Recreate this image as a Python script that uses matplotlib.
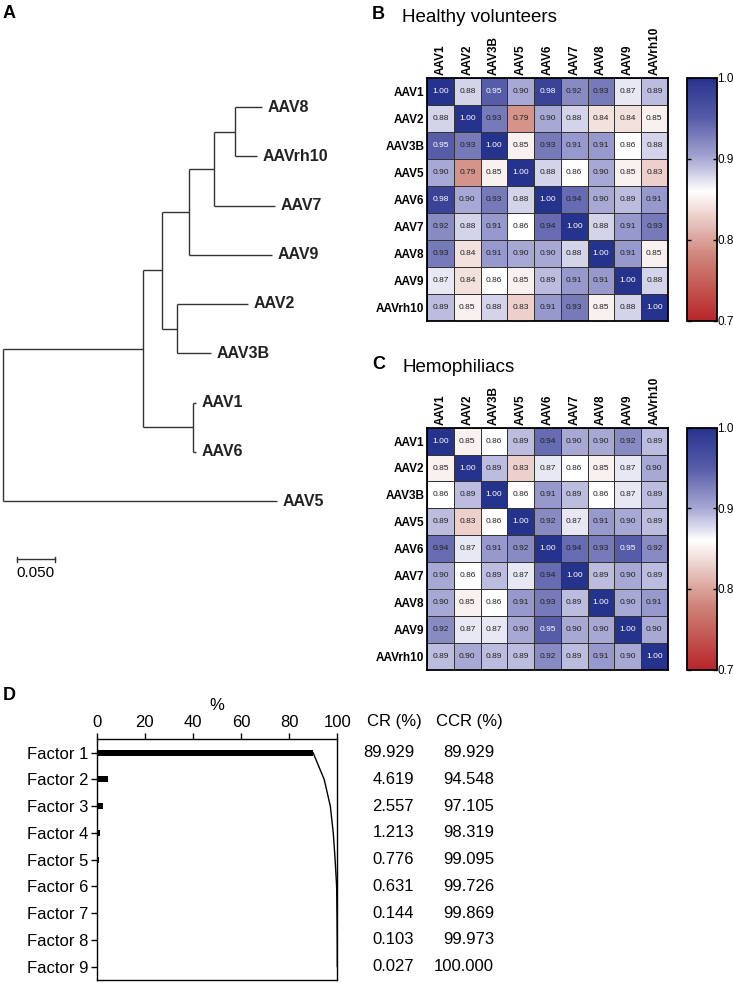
import matplotlib
matplotlib.use("Agg")
import matplotlib.pyplot as plt
import matplotlib.transforms as mtransforms
from matplotlib.colors import LinearSegmentedColormap, Normalize
from matplotlib.cm import ScalarMappable
import numpy as np

plt.rcParams['font.family'] = ['Liberation Sans', 'DejaVu Sans']

# ---- data ----
# phylogenetic tree (A): parent of each node and its branch length
tip_order = ['AAV8', 'AAVrh10', 'AAV7', 'AAV9', 'AAV2', 'AAV3B', 'AAV1', 'AAV6', 'AAV5']
tree_parent = {
    'ingroup': 'root', 'AAV5': 'root',
    'n16': 'ingroup', 'clade': 'ingroup',
    'AAV1': 'n16', 'AAV6': 'n16',
    'n23': 'clade', 'n789': 'clade',
    'AAV2': 'n23', 'AAV3B': 'n23',
    'n78': 'n789', 'AAV9': 'n789',
    'n810': 'n78', 'AAV7': 'n78',
    'AAV8': 'n810', 'AAVrh10': 'n810',
}
branch_length = {
    'ingroup': 0.186, 'AAV5': 0.364,
    'n16': 0.066, 'clade': 0.025,
    'AAV1': 0.005, 'AAV6': 0.005,
    'n23': 0.021, 'n789': 0.037,
    'AAV2': 0.094, 'AAV3B': 0.045,
    'n78': 0.032, 'AAV9': 0.109,
    'n810': 0.028, 'AAV7': 0.082,
    'AAV8': 0.036, 'AAVrh10': 0.029,
}
scale_bar = 0.050

# correlation matrices (B, C)
serotypes = ['AAV1', 'AAV2', 'AAV3B', 'AAV5', 'AAV6', 'AAV7', 'AAV8', 'AAV9', 'AAVrh10']
healthy = [
    [1.00, 0.88, 0.95, 0.90, 0.98, 0.92, 0.93, 0.87, 0.89],
    [0.88, 1.00, 0.93, 0.79, 0.90, 0.88, 0.84, 0.84, 0.85],
    [0.95, 0.93, 1.00, 0.85, 0.93, 0.91, 0.91, 0.86, 0.88],
    [0.90, 0.79, 0.85, 1.00, 0.88, 0.86, 0.90, 0.85, 0.83],
    [0.98, 0.90, 0.93, 0.88, 1.00, 0.94, 0.90, 0.89, 0.91],
    [0.92, 0.88, 0.91, 0.86, 0.94, 1.00, 0.88, 0.91, 0.93],
    [0.93, 0.84, 0.91, 0.90, 0.90, 0.88, 1.00, 0.91, 0.85],
    [0.87, 0.84, 0.86, 0.85, 0.89, 0.91, 0.91, 1.00, 0.88],
    [0.89, 0.85, 0.88, 0.83, 0.91, 0.93, 0.85, 0.88, 1.00],
]
hemophiliacs = [
    [1.00, 0.85, 0.86, 0.89, 0.94, 0.90, 0.90, 0.92, 0.89],
    [0.85, 1.00, 0.89, 0.83, 0.87, 0.86, 0.85, 0.87, 0.90],
    [0.86, 0.89, 1.00, 0.86, 0.91, 0.89, 0.86, 0.87, 0.89],
    [0.89, 0.83, 0.86, 1.00, 0.92, 0.87, 0.91, 0.90, 0.89],
    [0.94, 0.87, 0.91, 0.92, 1.00, 0.94, 0.93, 0.95, 0.92],
    [0.90, 0.86, 0.89, 0.87, 0.94, 1.00, 0.89, 0.90, 0.89],
    [0.90, 0.85, 0.86, 0.91, 0.93, 0.89, 1.00, 0.90, 0.91],
    [0.92, 0.87, 0.87, 0.90, 0.95, 0.90, 0.90, 1.00, 0.90],
    [0.89, 0.90, 0.89, 0.89, 0.92, 0.89, 0.91, 0.90, 1.00],
]
cbar_ticks = [0.7, 0.8, 0.9, 1.0]

# factor analysis (D)
factors = ['Factor %d' % i for i in range(1, 10)]
cr = [89.929, 4.619, 2.557, 1.213, 0.776, 0.631, 0.144, 0.103, 0.027]
ccr = [89.929, 94.548, 97.105, 98.319, 99.095, 99.726, 99.869, 99.973, 100.000]

# ---- figure ----
W, H = 733, 983
fig = plt.figure(figsize=(W / 100, H / 100), dpi=100)


def px_axes(x0, y0, x1, y1):
    return fig.add_axes([x0 / W, 1 - y1 / H, (x1 - x0) / W, (y1 - y0) / H])


def letter(x, y, s):
    fig.text(x / W, 1 - y / H, s, fontsize=13, fontweight='bold', ha='left', va='center')


# ---- A: tree ----
ax = px_axes(0, 80, 360, 600)
ax.set_xlim(-2.5 / 754, 357.5 / 754)
ax.set_ylim((600 - 107) / 49.25, (80 - 107) / 49.25)
ax.axis('off')

children = {}
for node, par in tree_parent.items():
    children.setdefault(par, []).append(node)


def depth(n):
    if n == 'root':
        return 0.0
    return depth(tree_parent[n]) + branch_length[n]


def ypos(n):
    if n in tip_order:
        return tip_order.index(n)
    ys = [ypos(c) for c in children[n]]
    return (min(ys) + max(ys)) / 2


lc = '#333333'
for node, par in tree_parent.items():
    ax.plot([depth(par), depth(node)], [ypos(node)] * 2, color=lc, lw=1.0, solid_capstyle='butt')
for node, kids in children.items():
    ys = [ypos(c) for c in kids]
    ax.plot([depth(node)] * 2, [min(ys), max(ys)], color=lc, lw=1.0, solid_capstyle='butt')
for tip in tip_order:
    ax.annotate(tip, (depth(tip), ypos(tip)), xytext=(4, 0), textcoords='offset points',
                fontsize=11.5, fontweight='bold', ha='left', va='center', color='#222222')

sb_x, sb_y = 0.019, 9.18
ax.plot([sb_x, sb_x + scale_bar], [sb_y, sb_y], color=lc, lw=1.0)
ax.plot([sb_x, sb_x], [sb_y - 0.05, sb_y + 0.05], color=lc, lw=1.0)
ax.plot([sb_x + scale_bar] * 2, [sb_y - 0.05, sb_y + 0.05], color=lc, lw=1.0)
ax.text(sb_x + scale_bar / 2, sb_y + 0.28, '%.3f' % scale_bar, fontsize=11, ha='center', va='center')

letter(3, 13, 'A')

# ---- B, C: heatmaps ----
cmap = LinearSegmentedColormap.from_list('rwb', [
    (0.0, '#B8262A'),
    (0.2667, '#CF857A'),
    (0.5333, '#FFFFFF'),
    (0.6667, '#A8A8D4'),
    (0.8333, '#575CA8'),
    (1.0, '#26338C'),
])
norm = Normalize(vmin=0.7, vmax=1.0)


def heatmap(top, bottom, values, title, lab):
    arr = np.array(values)
    ax = px_axes(427.3, top, 667.7, bottom)
    ax.pcolormesh(arr, cmap=cmap, norm=norm, edgecolors='#333333', linewidth=0.6)
    ax.set_xlim(0, len(serotypes))
    ax.set_ylim(len(serotypes), 0)
    ax.xaxis.tick_top()
    ax.set_xticks(np.arange(len(serotypes)) + 0.5)
    ax.set_yticks(np.arange(len(serotypes)) + 0.5)
    ax.set_xticklabels(serotypes, rotation=90, fontsize=8.5, fontweight='bold')
    ax.set_yticklabels(serotypes, fontsize=8.5, fontweight='bold')
    ax.tick_params(length=0, pad=2)
    for s in ax.spines.values():
        s.set_linewidth(1.3)
    for i in range(arr.shape[0]):
        for j in range(arr.shape[1]):
            v = arr[i, j]
            ax.text(j + 0.5, i + 0.5, '%.2f' % v, ha='center', va='center', fontsize=6,
                    color='white' if v >= 0.945 else '#222222')

    cax = px_axes(686.7, top, 716.7, bottom)
    cb = fig.colorbar(ScalarMappable(norm=norm, cmap=cmap), cax=cax)
    cb.set_ticks(cbar_ticks)
    cb.set_ticklabels(['%.1f' % t for t in cbar_ticks])
    cb.outline.set_linewidth(1.3)
    cax.tick_params(labelsize=8.5, length=3, width=1, direction='in', pad=0.5, left=True)

    fig.text(402 / W, 1 - (top - 60) / H, title, fontsize=13.5, ha='left', va='center')
    letter(372, top - 63, lab)


heatmap(77.7, 320.7, healthy, 'Healthy volunteers', 'B')
heatmap(427.7, 669.5, hemophiliacs, 'Hemophiliacs', 'C')

# ---- D: factor analysis ----
ax = px_axes(96.7, 739.3, 337.3, 980)
y = np.arange(1, len(factors) + 1)
ax.barh(y, cr, height=0.22, color='black')
ax.plot(ccr, y, color='black', lw=1.0)
ax.set_xlim(0, 100)
ax.set_ylim(len(factors) + 0.5, 0.5)
ax.xaxis.tick_top()
ax.xaxis.set_label_position('top')
ax.set_xticks([0, 20, 40, 60, 80, 100])
ax.set_xlabel('%', fontsize=12, labelpad=4)
ax.set_yticks(y)
ax.set_yticklabels(factors)
ax.tick_params(axis='both', labelsize=12, width=1, length=4.5, direction='out')
ax.tick_params(axis='x', pad=2)
ax.tick_params(axis='y', pad=1.5)
for s in ax.spines.values():
    s.set_linewidth(1.0)

tr = mtransforms.blended_transform_factory(fig.transFigure, ax.transData)
for yi, a, b in zip(y, cr, ccr):
    ax.text(414 / W, yi, '%.3f' % a, transform=tr, ha='right', va='center', fontsize=12)
    ax.text(494 / W, yi, '%.3f' % b, transform=tr, ha='right', va='center', fontsize=12)
fig.text(394 / W, 1 - 721.7 / H, 'CR (%)', ha='center', va='center', fontsize=12)
fig.text(469 / W, 1 - 721.7 / H, 'CCR (%)', ha='center', va='center', fontsize=12)

letter(3, 696, 'D')

fig.savefig('out.png', dpi=100)
